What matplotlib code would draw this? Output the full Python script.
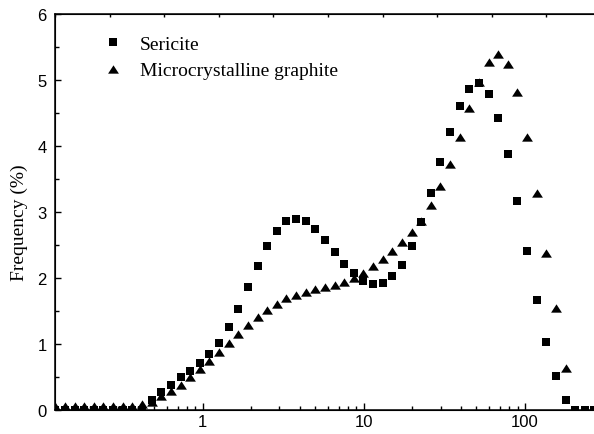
import numpy as np
import matplotlib
matplotlib.use('Agg')
import matplotlib.pyplot as plt
from matplotlib.ticker import LogLocator, NullFormatter, FixedLocator, MultipleLocator

# particle size grid (um)
size_um = [0.122, 0.140, 0.161, 0.185, 0.212, 0.243, 0.279, 0.320, 0.367, 0.421,
           0.483, 0.555, 0.636, 0.730, 0.838, 0.961, 1.103, 1.265, 1.452, 1.666,
           1.911, 2.193, 2.516, 2.887, 3.313, 3.801, 4.361, 5.004, 5.741, 6.587,
           7.557, 8.670, 9.947, 11.41, 13.10, 15.02, 17.24, 19.78, 22.69, 26.04,
           29.87, 34.28, 39.33, 45.12, 51.77, 59.40, 68.15, 78.20, 89.72, 102.9,
           118.1, 135.5, 155.5, 178.4, 204.7, 234.9, 269.5]

sericite = [0.0, 0.0, 0.0, 0.0, 0.0, 0.0, 0.0, 0.0, 0.0, 0.0,
            0.15, 0.27, 0.39, 0.50, 0.60, 0.71, 0.85, 1.02, 1.26, 1.54,
            1.87, 2.19, 2.49, 2.72, 2.86, 2.90, 2.86, 2.74, 2.58, 2.40,
            2.22, 2.07, 1.96, 1.91, 1.92, 2.03, 2.20, 2.48, 2.85, 3.28,
            3.75, 4.21, 4.60, 4.86, 4.95, 4.78, 4.42, 3.87, 3.17, 2.41,
            1.67, 1.03, 0.52, 0.16, 0.0, 0.0, 0.0]

graphite = [0.06, 0.06, 0.06, 0.06, 0.06, 0.06, 0.06, 0.06, 0.06, 0.09,
            0.13, 0.21, 0.29, 0.39, 0.50, 0.625, 0.75, 0.88, 1.02, 1.16,
            1.29, 1.41, 1.52, 1.61, 1.70, 1.75, 1.79, 1.835, 1.86, 1.89,
            1.94, 2.00, 2.08, 2.18, 2.29, 2.41, 2.55, 2.70, 2.86, 3.11,
            3.39, 3.73, 4.13, 4.57, 4.96, 5.27, 5.385, 5.24, 4.82, 4.135,
            3.29, 2.38, 1.55, 0.64, 0.0, 0.0, 0.0]

labels = ['Sericite', 'Microcrystalline graphite']

serif = ['Liberation Serif', 'DejaVu Serif']
sans = ['Liberation Sans', 'DejaVu Sans']

fig = plt.figure(figsize=(5.94, 4.35), dpi=100)
ax = fig.add_axes([55 / 594, 23.7 / 435, 546 / 594, 396.6 / 435])

tri = [(-1, -0.77), (1, -0.77), (0, 0.77)]
ax.plot(size_um, sericite, ls='none', marker='s', ms=5.6, mew=0, color='black',
        label=labels[0])
ax.plot(size_um, graphite, ls='none', marker=tri, ms=7.8, mew=0, color='black',
        label=labels[1])

ax.set_xscale('log')
ax.set_xlim(0.1216, 296)
ax.set_ylim(0, 6)

ax.xaxis.set_major_locator(FixedLocator([1, 10, 100]))
ax.set_xticklabels(['1', '10', '100'])
ax.xaxis.set_minor_locator(LogLocator(base=10, subs=np.arange(2, 10)))
ax.xaxis.set_minor_formatter(NullFormatter())
ax.yaxis.set_major_locator(MultipleLocator(1))
ax.yaxis.set_minor_locator(MultipleLocator(0.5))

ax.tick_params(axis='x', which='major', direction='in', length=5, width=1, pad=3,
               labelsize=12)
ax.tick_params(axis='x', which='minor', direction='in', length=2.7, width=1)
ax.tick_params(axis='y', which='major', direction='in', length=4, width=1, pad=6,
               labelsize=12)
ax.tick_params(axis='y', which='minor', direction='in', length=3, width=1)
for lab in ax.get_xticklabels() + ax.get_yticklabels():
    lab.set_family(sans)

for s in ['left', 'bottom', 'top']:
    ax.spines[s].set_linewidth(1.1)
ax.spines['right'].set_visible(False)

# top axis: plain evenly spaced ticks, no labels
top = ax.twiny()
top.set_xlim(0, 1)
top.xaxis.set_major_locator(MultipleLocator(0.1))
top.tick_params(axis='x', direction='in', length=2.5, width=1, labeltop=False)
top.spines['right'].set_visible(False)

ax.set_ylabel('Frequency (%)', family=serif, fontsize=14)
ax.yaxis.set_label_coords(-0.05, 0.475)

leg = ax.legend(loc='upper left', bbox_to_anchor=(0.0879, 0.945), frameon=False,
                prop={'family': serif, 'size': 14}, handlelength=1.0,
                handletextpad=0.9, labelspacing=0.45, borderpad=0,
                borderaxespad=0, numpoints=1)

fig.savefig('out.png', dpi=100)
